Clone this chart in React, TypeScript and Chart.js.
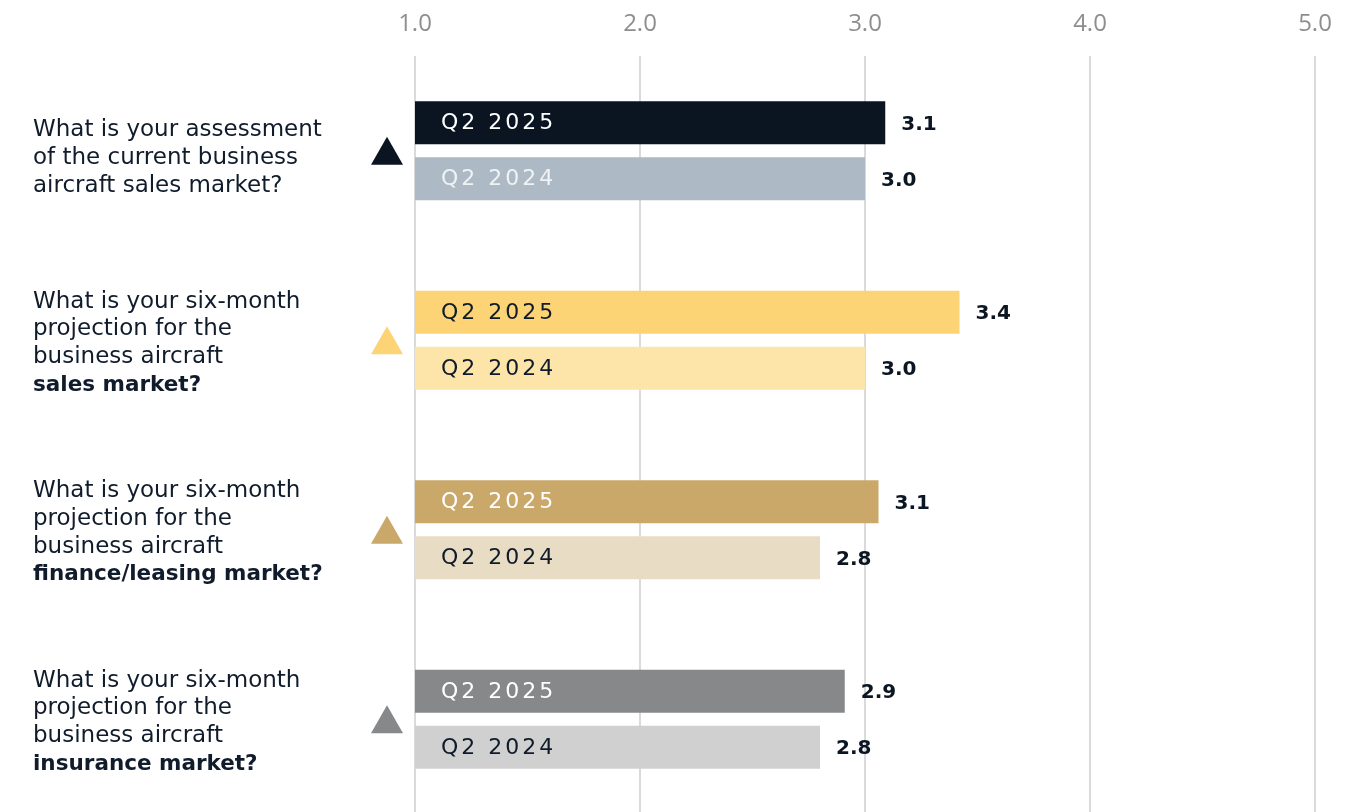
import React, { useEffect, useRef } from "react";
import { Chart, registerables } from "chart.js";

Chart.register(...registerables);

const categories = [
  "Current sales market",
  "Sales market projection",
  "Finance/leasing market projection",
  "Insurance market projection",
];
const questionLines = [
  ["What is your assessment", "of the current business", "aircraft sales market?"],
  ["What is your six-month", "projection for the", "business aircraft", "sales market?"],
  ["What is your six-month", "projection for the", "business aircraft", "finance/leasing market?"],
  ["What is your six-month", "projection for the", "business aircraft", "insurance market?"],
];
const boldLastLine = [false, true, true, true];
const seriesLabels = ["Q2 2025", "Q2 2024"];
const values2025 = [3.09, 3.42, 3.06, 2.91];
const values2024 = [3.0, 3.0, 2.8, 2.8];
const xTickValues = [1, 2, 3, 4, 5];

const colors2025 = ["#0a1521", "#fcd375", "#c9a86a", "#87888a"];
const colors2024 = ["#adbac6", "#fde5aa", "#e9dcc5", "#d0d0d0"];
const innerText2025 = ["#ffffff", "#0f1b2a", "#ffffff", "#ffffff"];
const innerText2024 = ["#eef2f5", "#0f1b2a", "#0f1b2a", "#0f1b2a"];

const FONT = '"DejaVu Sans", "Open Sans", sans-serif';
const TICK_FONT = '"Open Sans", "DejaVu Sans", sans-serif';

const decorPlugin = {
  id: "decor",
  afterDatasetsDraw(chart: any) {
    const ctx = chart.ctx as CanvasRenderingContext2D;
    const area = chart.chartArea;
    const yScale = chart.scales.y;
    const innerColors = [innerText2025, innerText2024];
    ctx.save();
    ctx.textAlign = "left";
    ctx.textBaseline = "middle";
    chart.data.datasets.forEach((ds: any, di: number) => {
      const meta = chart.getDatasetMeta(di);
      meta.data.forEach((bar: any, i: number) => {
        const { x, y, base } = bar.getProps(["x", "y", "base"], true);
        const start = Math.max(base, area.left);
        ctx.font = `400 22px ${FONT}`;
        (ctx as any).letterSpacing = "3px";
        ctx.fillStyle = innerColors[di][i];
        ctx.fillText(seriesLabels[di], start + 26, y + 1);
        (ctx as any).letterSpacing = "0px";
        ctx.font = `700 20px ${FONT}`;
        ctx.fillStyle = "#0b1622";
        ctx.fillText(Number(ds.data[i]).toFixed(1), x + 16, y + 2);
      });
    });
    categories.forEach((_, i) => {
      const cy = yScale.getPixelForValue(i);
      const cx = area.left - 28;
      ctx.fillStyle = colors2025[i];
      ctx.beginPath();
      ctx.moveTo(cx, cy - 14);
      ctx.lineTo(cx + 16, cy + 14);
      ctx.lineTo(cx - 16, cy + 14);
      ctx.closePath();
      ctx.fill();
      const lines = questionLines[i];
      const shift = lines.length === 3 ? 7 : 3;
      lines.forEach((line, li) => {
        const bold = boldLastLine[i] && li === lines.length - 1;
        ctx.font = bold ? `700 21.5px ${FONT}` : `400 23px ${FONT}`;
        ctx.fillStyle = "#101c2b";
        ctx.fillText(line, 33, cy + shift + (li - (lines.length - 1) / 2) * 27.8);
      });
    });
    ctx.restore();
  },
};

export default function App() {
  const ref = useRef<HTMLCanvasElement | null>(null);
  useEffect(() => {
    if (!ref.current) return;
    const chart = new Chart(ref.current, {
      type: "bar",
      data: {
        labels: categories,
        datasets: [
          { label: seriesLabels[0], data: values2025, backgroundColor: colors2025, borderWidth: 0 },
          { label: seriesLabels[1], data: values2024, backgroundColor: colors2024, borderWidth: 0 },
        ],
      },
      options: {
        indexAxis: "y",
        animation: false,
        responsive: false,
        devicePixelRatio: 1,
        layout: { padding: { left: 415, right: 56, top: 9.6, bottom: 0 } },
        datasets: { bar: { categoryPercentage: 0.591, barPercentage: 0.768 } },
        plugins: { legend: { display: false }, tooltip: { enabled: false } },
        scales: {
          x: {
            type: "linear",
            position: "top",
            min: 1,
            max: 5,
            afterBuildTicks: (s: any) => {
              s.ticks = xTickValues.map((v) => ({ value: v }));
            },
            afterFit: (s: any) => {
              s.height = 46.4;
            },
            ticks: {
              callback: (v: any) => Number(v).toFixed(1),
              color: "#8e8e8e",
              font: { family: TICK_FONT, size: 24, weight: "400" },
              padding: 17,
            },
            grid: { color: "#dadada", lineWidth: 2, drawTicks: false },
            border: { display: false },
          },
          y: { type: "category", display: false },
        },
      },
      plugins: [decorPlugin],
    } as any);
    return () => chart.destroy();
  }, []);
  return (
    <div
      style={{
        position: "fixed",
        left: 0,
        top: 0,
        width: 1371,
        height: 812,
        overflow: "hidden",
        background: "#ffffff",
      }}
    >
      <canvas ref={ref} width={1371} height={814} style={{ display: "block" }} />
    </div>
  );
}
